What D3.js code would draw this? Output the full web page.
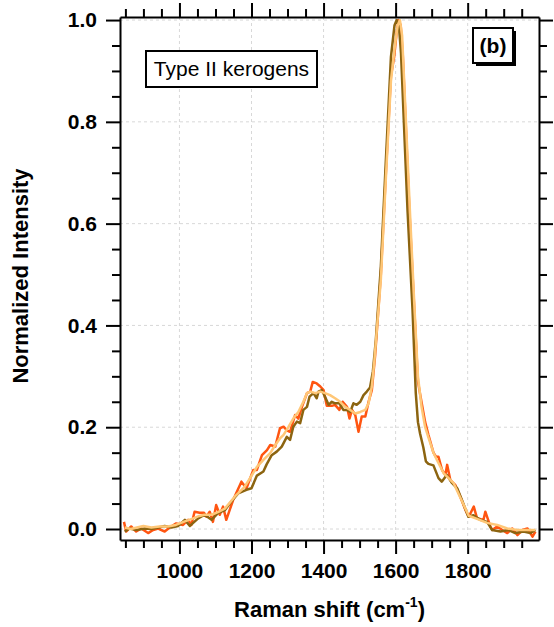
<!DOCTYPE html>
<html>
<head>
<meta charset="utf-8">
<script src="https://cdn.jsdelivr.net/npm/d3@7"></script>
<style>
  body { margin: 0; background: #fff; }
  svg { display: block; font-family: "Liberation Sans", Arial, sans-serif; }
  .tick text { font-weight: bold; font-size: 21px; fill: #000; }
  .grid line { stroke: #d8d8d8; stroke-dasharray: 3,3; }
</style>
</head>
<body>
<div id="chart"></div>
<script>
// Raman shift (cm-1) / normalized intensity, three Type II kerogen spectra
const darkShift = [848, 862, 880, 904, 922, 941, 959, 978, 996, 1015, 1029, 1052, 1070, 1089, 1107, 1126, 1144, 1163, 1186, 1200,
    1215, 1233, 1242, 1256, 1270, 1284, 1298, 1307, 1316, 1326, 1335, 1344, 1354, 1361, 1372, 1381, 1386, 1395, 1404, 1414,
    1423, 1432, 1444, 1455, 1465, 1474, 1483, 1492, 1502, 1511, 1520, 1529, 1537, 1545, 1559, 1573, 1587, 1597, 1603, 1609,
    1615, 1633, 1647, 1656, 1662, 1668, 1677, 1684, 1691, 1705, 1719, 1728, 1742, 1757, 1771, 1784, 1802, 1816, 1835, 1854,
    1868, 1891, 1914, 1932, 1955, 1974, 1988];
const darkInt = [-0.005, 0.001, -0.002, 0.001, 0.0, 0.003, 0.006, 0.003, 0.006, 0.018, 0.006, 0.021, 0.028, 0.018, 0.031, 0.037, 0.054, 0.07, 0.077, 0.08,
    0.105, 0.113, 0.127, 0.145, 0.152, 0.162, 0.181, 0.175, 0.201, 0.211, 0.208, 0.234, 0.24, 0.26, 0.267, 0.257, 0.27, 0.273, 0.26, 0.244,
    0.25, 0.247, 0.247, 0.234, 0.234, 0.23, 0.247, 0.244, 0.25, 0.263, 0.27, 0.278, 0.31, 0.37, 0.515, 0.725, 0.927, 0.99, 1.0, 0.99,
    0.935, 0.627, 0.43, 0.267, 0.21, 0.187, 0.16, 0.133, 0.128, 0.125, 0.1, 0.093, 0.106, 0.09, 0.08, 0.057, 0.024, 0.027, 0.018, 0.014,
    -0.002, -0.005, -0.002, -0.008, -0.005, -0.008, -0.002];

const orangeShift = [846, 852, 866, 880, 894, 913, 927, 941, 959, 973, 991, 1010, 1024, 1033, 1042, 1056, 1068, 1075, 1084, 1093,
    1102, 1112, 1121, 1130, 1149, 1172, 1186, 1205, 1215, 1229, 1243, 1252, 1266, 1279, 1289, 1298, 1307, 1321, 1330, 1340,
    1354, 1363, 1370, 1381, 1391, 1400, 1409, 1423, 1432, 1444, 1453, 1465, 1472, 1479, 1488, 1497, 1506, 1516, 1525, 1534,
    1543, 1559, 1573, 1587, 1596, 1602, 1608, 1614, 1620, 1638, 1652, 1662, 1668, 1682, 1691, 1705, 1712, 1719, 1729, 1738,
    1743, 1752, 1766, 1780, 1794, 1803, 1817, 1826, 1844, 1849, 1863, 1868, 1882, 1896, 1910, 1924, 1938, 1952, 1966, 1980, 1988];
const orangeInt = [0.014, -0.005, 0.005, -0.005, 0.001, -0.008, -0.002, 0.001, -0.005, 0.003, 0.011, 0.008, 0.018, 0.008, 0.034, 0.032, 0.032, 0.024, 0.034, 0.014,
    0.047, 0.028, 0.044, 0.018, 0.057, 0.093, 0.08, 0.116, 0.116, 0.145, 0.155, 0.165, 0.162, 0.198, 0.201, 0.194, 0.191, 0.224, 0.217, 0.24,
    0.267, 0.27, 0.289, 0.286, 0.28, 0.273, 0.242, 0.242, 0.244, 0.234, 0.25, 0.24, 0.217, 0.234, 0.224, 0.191, 0.221, 0.221, 0.25, 0.273,
    0.34, 0.5, 0.7, 0.89, 0.928, 0.97, 1.0, 0.99, 0.93, 0.63, 0.43, 0.29, 0.265, 0.21, 0.185, 0.15, 0.142, 0.142, 0.116, 0.106,
    0.126, 0.096, 0.086, 0.063, 0.037, 0.024, 0.044, 0.021, 0.018, 0.034, 0.005, -0.002, 0.005, -0.002, -0.008, 0.001, -0.012, -0.002, 0.001, -0.015, -0.005];

const lightShift = [848, 865, 882, 900, 922, 945, 968, 990, 1015, 1035, 1052, 1070, 1089, 1107, 1126, 1154, 1181, 1196, 1215, 1233,
    1252, 1266, 1279, 1289, 1303, 1316, 1330, 1344, 1354, 1363, 1377, 1391, 1404, 1418, 1432, 1446, 1460, 1474, 1488, 1502,
    1516, 1525, 1534, 1541, 1559, 1573, 1587, 1598, 1606, 1612, 1618, 1625, 1640, 1652, 1662, 1672, 1682, 1691, 1705, 1715,
    1733, 1761, 1784, 1803, 1826, 1854, 1882, 1910, 1938, 1966, 1988];
const lightInt = [0.003, 0.0, 0.003, 0.006, 0.003, 0.005, 0.005, 0.008, 0.015, 0.02, 0.025, 0.028, 0.028, 0.033, 0.04, 0.064, 0.083, 0.1, 0.122, 0.136,
    0.149, 0.165, 0.178, 0.185, 0.201, 0.217, 0.23, 0.25, 0.267, 0.27, 0.267, 0.27, 0.267, 0.263, 0.257, 0.25, 0.24, 0.234, 0.227, 0.23,
    0.234, 0.247, 0.28, 0.33, 0.49, 0.69, 0.88, 0.95, 0.99, 1.0, 0.97, 0.86, 0.62, 0.44, 0.3, 0.24, 0.2, 0.18, 0.15, 0.135,
    0.11, 0.09, 0.055, 0.026, 0.02, 0.012, 0.008, 0.001, -0.002, -0.002, -0.002];

const xMajor = [1000, 1200, 1400, 1600, 1800];
const xMinor = [850, 900, 950, 1050, 1100, 1150, 1250, 1300, 1350, 1450, 1500, 1550, 1650, 1700, 1750, 1850, 1900, 1950];
const yMajor = [0, 0.2, 0.4, 0.6, 0.8, 1.0];
const yMinor = [0.05, 0.1, 0.15, 0.25, 0.3, 0.35, 0.45, 0.5, 0.55, 0.65, 0.7, 0.75, 0.85, 0.9, 0.95];

let width = 554,
    height = 627,
    margin = { top: 17, right: 15, bottom: 87, left: 120 };

const svg = d3.select("#chart").append("svg")
    .attr("width", width)
    .attr("height", height);

let x = d3.scaleLinear()
    .domain([835, 1998])
    .range([margin.left, width - margin.right]);

let y = d3.scaleLinear()
    .domain([-0.0216, 1.006])
    .range([height - margin.bottom, margin.top]);

// grid
svg.append("g").attr("class", "grid")
    .selectAll("line").data(yMajor).join("line")
    .attr("x1", margin.left).attr("x2", width - margin.right)
    .attr("y1", d => y(d)).attr("y2", d => y(d));
svg.append("g").attr("class", "grid")
    .selectAll("line").data(xMajor).join("line")
    .attr("y1", margin.top).attr("y2", height - margin.bottom)
    .attr("x1", d => x(d)).attr("x2", d => x(d));

// spectra
let line = d3.line().x(d => x(d[0])).y(d => y(d[1]));
const series = [
    { shift: orangeShift, val: orangeInt, color: "#ff5511" },
    { shift: darkShift, val: darkInt, color: "#8c6410" },
    { shift: lightShift, val: lightInt, color: "#ffc777" }
];
for (let s of series) {
    svg.append("path")
        .datum(s.shift.map((v, i) => [v, s.val[i]]))
        .attr("fill", "none")
        .attr("stroke", s.color)
        .attr("stroke-width", 2.5)
        .attr("stroke-linejoin", "round")
        .attr("d", line);
}

// axes (major + minor, all four sides)
const majorLen = 14, minorLen = 8;
function addAxis(axisFn, scale, pos, majors, minors, labels) {
    let g = svg.append("g").attr("transform", pos);
    g.call(axisFn(scale).tickValues(minors).tickSize(minorLen).tickFormat(""));
    g.select(".domain").remove();
    let g2 = svg.append("g").attr("transform", pos);
    let ax = axisFn(scale).tickValues(majors).tickSize(majorLen).tickSizeOuter(0).tickPadding(9);
    if (labels) ax.tickFormat(labels); else ax.tickFormat("");
    g2.call(ax);
    g2.selectAll("line").attr("stroke-width", 2);
    g.selectAll("line").attr("stroke-width", 2);
    g2.select(".domain").attr("stroke-width", 2);
    return g2;
}
addAxis(d3.axisBottom, x, `translate(0,${height - margin.bottom})`, xMajor, xMinor, d3.format("d"));
addAxis(d3.axisTop, x, `translate(0,${margin.top})`, xMajor, xMinor, null);
addAxis(d3.axisLeft, y, `translate(${margin.left},0)`, yMajor, yMinor, d3.format(".1f"));
addAxis(d3.axisRight, y, `translate(${width - margin.right},0)`, yMajor, yMinor, null);

// axis titles
let xt = svg.append("text")
    .attr("x", (margin.left + width - margin.right) / 2)
    .attr("y", 617)
    .attr("text-anchor", "middle")
    .attr("font-weight", "bold")
    .attr("font-size", 22);
xt.append("tspan").text("Raman shift (cm");
xt.append("tspan").attr("font-size", 14).attr("dy", -10).text("-1");
xt.append("tspan").attr("dy", 10).text(")");

svg.append("text")
    .attr("transform", "translate(28,276) rotate(-90)")
    .attr("text-anchor", "middle")
    .attr("font-weight", "bold")
    .attr("font-size", 22)
    .text("Normalized Intensity");

// annotation boxes
svg.append("rect")
    .attr("x", 146).attr("y", 51).attr("width", 171).attr("height", 36)
    .attr("fill", "#fff").attr("stroke", "#000").attr("stroke-width", 2);
svg.append("text")
    .attr("x", 231.5).attr("y", 76)
    .attr("text-anchor", "middle")
    .attr("font-size", 21)
    .text("Type II kerogens");

svg.append("rect")
    .attr("x", 476).attr("y", 31).attr("width", 40).attr("height", 35)
    .attr("fill", "#000");
svg.append("rect")
    .attr("x", 473).attr("y", 28).attr("width", 40).attr("height", 35)
    .attr("fill", "#fff").attr("stroke", "#000").attr("stroke-width", 2);
svg.append("text")
    .attr("x", 493).attr("y", 53)
    .attr("text-anchor", "middle")
    .attr("font-weight", "bold")
    .attr("font-size", 21)
    .text("(b)");
</script>
</body>
</html>
